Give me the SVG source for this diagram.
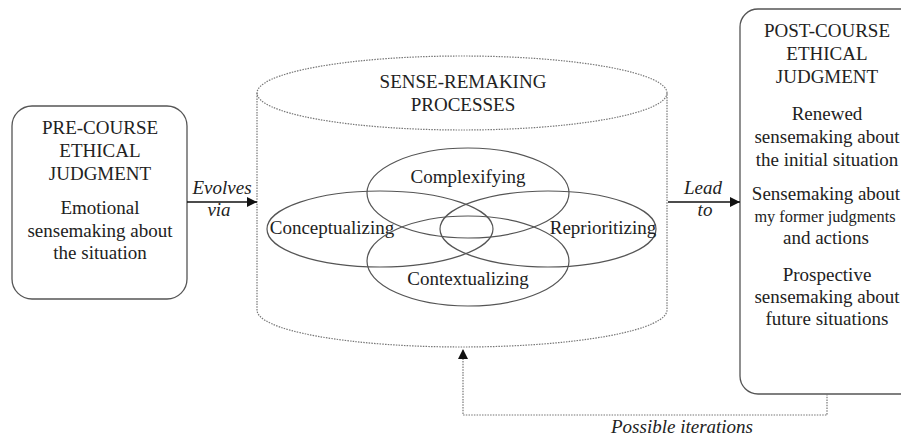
<svg xmlns="http://www.w3.org/2000/svg" width="901" height="436" viewBox="0 0 901 436">
<defs>
<style>
text{font-family:"Liberation Serif","Times New Roman",serif;font-size:19px;fill:#222;text-anchor:middle}
.it{font-style:italic}
.box{fill:#fff;stroke:#555;stroke-width:1.3}
.dot{fill:none;stroke:#777;stroke-width:1.2;stroke-dasharray:1.5 1.2}
.ell{fill:none;stroke:#555;stroke-width:1.2}
.arr{fill:none;stroke:#111;stroke-width:1.4}
</style>
<marker id="ah" viewBox="0 0 10 10" refX="10" refY="5" markerWidth="10" markerHeight="10" markerUnits="userSpaceOnUse" orient="auto">
<path d="M0,0 L10,5 L0,10 Z" fill="#111"/>
</marker>
</defs>
<rect width="901" height="436" fill="#fff"/>
<g id="pre-course">
<rect class="box" x="12" y="106" width="175" height="193" rx="20"/>
<text x="100" y="134">PRE-COURSE</text>
<text x="100" y="157">ETHICAL</text>
<text x="100" y="180">JUDGMENT</text>
<text x="100" y="214">Emotional</text>
<text x="100" y="237">sensemaking about</text>
<text x="100" y="259">the situation</text>
</g>
<g id="sense-remaking">
<path class="dot" d="M257,93 L257,310 A205,37 0 0 0 667,310 L667,93"/>
<ellipse class="dot" cx="462" cy="93" rx="205" ry="37"/>
<text x="463" y="88">SENSE-REMAKING</text>
<text x="463" y="111">PROCESSES</text>
</g>
<g id="complexifying">
<ellipse class="ell" cx="468" cy="193" rx="101" ry="45"/>
<text x="468" y="183">Complexifying</text>
</g>
<g id="conceptualizing">
<ellipse class="ell" cx="380" cy="229" rx="113" ry="38"/>
<text x="332" y="234">Conceptualizing</text>
</g>
<g id="reprioritizing">
<ellipse class="ell" cx="548" cy="229" rx="108" ry="38"/>
<text x="603" y="234">Reprioritizing</text>
</g>
<g id="contextualizing">
<ellipse class="ell" cx="468" cy="261" rx="101" ry="45"/>
<text x="468" y="285">Contextualizing</text>
</g>
<g id="post-course">
<rect class="box" x="740" y="9" width="180" height="385" rx="18"/>
<text x="827" y="37">POST-COURSE</text>
<text x="827" y="60">ETHICAL</text>
<text x="827" y="83">JUDGMENT</text>
<text x="827" y="120">Renewed</text>
<text x="827" y="143">sensemaking about</text>
<text x="827" y="166">the initial situation</text>
<text x="826" y="200">Sensemaking about</text>
<text x="825" y="222" style="font-size:16.3px">my former judgments</text>
<text x="826" y="244">and actions</text>
<text x="827" y="281">Prospective</text>
<text x="827" y="303">sensemaking about</text>
<text x="827" y="325">future situations</text>
</g>
<g id="connectors">
<line class="arr" x1="187" y1="202" x2="257" y2="202" marker-end="url(#ah)"/>
<text class="it" x="222" y="194">Evolves</text>
<text class="it" x="219" y="216">via</text>
<line class="arr" x1="668" y1="202" x2="740" y2="202" marker-end="url(#ah)"/>
<text class="it" x="703" y="194">Lead</text>
<text class="it" x="705" y="216">to</text>
<path class="dot" d="M827,394 L827,415 L463,415 L463,349" marker-end="url(#ah)"/>
<text class="it" x="682" y="433">Possible iterations</text>
</g>
</svg>
